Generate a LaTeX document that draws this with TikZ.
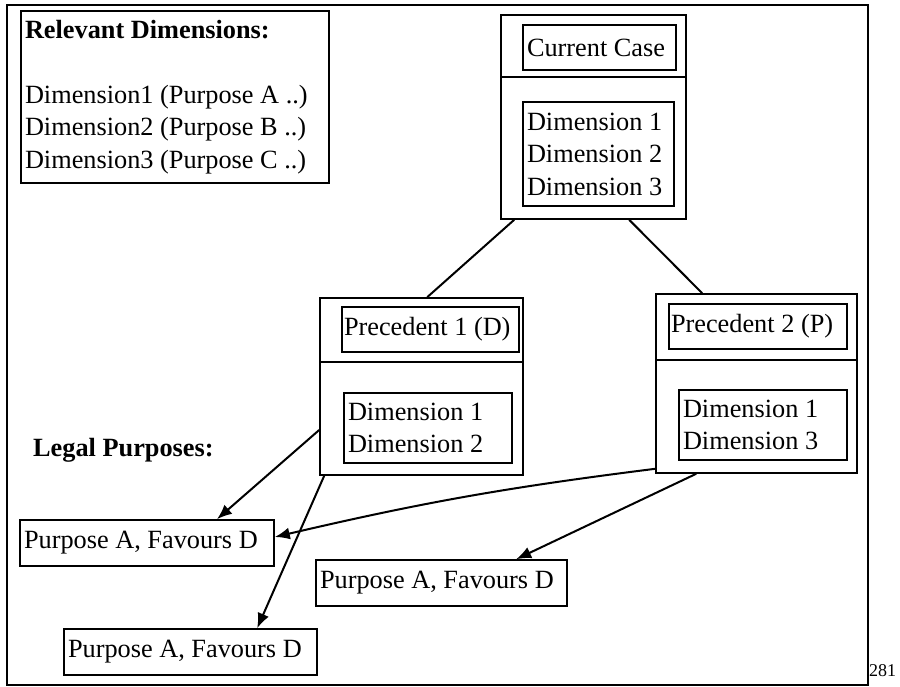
\documentclass[tikz,border=0pt]{standalone}
\usepackage{tikz}
\usepackage{amsmath}
\usepackage{fontspec}
\setmainfont{Liberation Serif}
\usetikzlibrary{arrows.meta}

\begin{document}
\begin{tikzpicture}[x=1pt,y=-1pt,
            font=\fontsize{26.3}{32.5}\selectfont,
            box/.style={draw,line width=1.6pt,inner sep=0pt},
            txtbox/.style={draw,line width=1.6pt,inner xsep=4pt,inner ysep=0pt,align=flush left},
            rule/.style={line width=1.6pt},
            link/.style={line width=2pt},
            arr/.style={line width=2pt,-{Latex[length=15pt,width=12pt]}}]
            \useasboundingbox (0,0) rectangle (900,687);
            \draw[line width=1.4pt] (7,5) rectangle (868,685);
            % key of dimensions
            \node (reldims) at (175,97) [txtbox,text width=300pt,minimum height=172pt] {\textbf{Relevant Dimensions:}\\[32.5pt]Dimension1 (Purpose A ..)\\Dimension2 (Purpose B ..)\\Dimension3 (Purpose C ..)};
            % current case
            \node (cur) at (593.5,117) [box,minimum width=185pt,minimum height=204pt] {};
            \node (curname) at (599.5,47.5) [txtbox,text width=145pt,minimum height=45pt] {Current Case};
            \node (curdims) at (598.5,154) [txtbox,text width=143pt,minimum height=104pt] {Dimension 1\\Dimension 2\\Dimension 3};
            \draw[rule] ([yshift=-63pt]cur.north west) -- ([yshift=-63pt]cur.north east);
            % precedents
            \node (prec1) at (421.5,386.5) [box,minimum width=203pt,minimum height=177pt] {};
            \node (prec1name) at (430.5,329.5) [txtbox,inner xsep=2pt,text width=173pt,minimum height=45pt] {\mbox{Precedent 1 (D)}};
            \node (prec1dims) at (428,428) [txtbox,text width=160pt,minimum height=70pt] {Dimension 1\\Dimension 2};
            \draw[rule] ([yshift=-65pt]prec1.north west) -- ([yshift=-65pt]prec1.north east);
            \node (prec2) at (756.5,383.5) [box,minimum width=201pt,minimum height=179pt] {};
            \node (prec2name) at (758,326.5) [txtbox,inner xsep=2pt,text width=174pt,minimum height=45pt] {\mbox{Precedent 2 (P)}};
            \node (prec2dims) at (763,425) [txtbox,text width=160pt,minimum height=70pt] {Dimension 1\\Dimension 3};
            \draw[rule] ([yshift=-67pt]prec2.north west) -- ([yshift=-67pt]prec2.north east);
            % purposes
            \node (legal) at (31,450) [anchor=west,inner sep=2pt] {\textbf{Legal Purposes:}};
            \node (pa) at (147,543) [txtbox,text width=246pt,minimum height=46pt] {Purpose A, Favours D};
            \node (pb) at (441.5,583) [txtbox,text width=243pt,minimum height=46pt] {Purpose A, Favours D};
            \node (pc) at (190.5,652) [txtbox,text width=245pt,minimum height=46pt] {Purpose A, Favours D};
            \node (pagenum) at (869,671) [anchor=west,inner sep=0pt,font=\fontsize{18}{20}\selectfont] {281};
            % connectors
            \draw[link] ([xshift=14pt]cur.south west) -- ([xshift=108pt]prec1.north west);
            \draw[link] ([xshift=129pt]cur.south west) -- ([xshift=47pt]prec2.north west);
            \draw[arr] ([yshift=-43.5pt]prec1.west) -- ([xshift=70pt]pa.north);
            \draw[arr] ([xshift=5pt]prec1.south west) -- ([xshift=194pt]pc.north west);
            \draw[arr] ([yshift=5pt]prec2.south west) to[bend right=3] ([yshift=6pt]pa.east);
            \draw[arr] ([xshift=41pt]prec2.south west) -- ([xshift=201pt]pb.north west);
\end{tikzpicture}
\end{document}
